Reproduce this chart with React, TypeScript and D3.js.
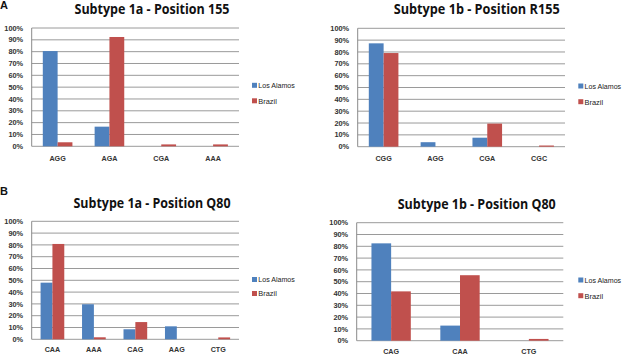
import React from "react";
import * as d3 from "d3";

const seriesNames = ["Los Alamos", "Brazil"];
const seriesColors = ["#4F81BD", "#C0504D"];
const legendWidths = [36.5, 18.5];
const yTicks = [0, 10, 20, 30, 40, 50, 60, 70, 80, 90, 100];

const catsA1 = ["AGG", "AGA", "CGA", "AAA"];
const losAlamosA1 = [80.5, 16.6, 0, 0];
const brazilA1 = [3.4, 92.4, 1.6, 1.6];

const catsA2 = ["CGG", "AGG", "CGA", "CGC"];
const losAlamosA2 = [87.3, 3.8, 7.6, 0];
const brazilA2 = [79.1, 0, 19.5, 1];

const catsB1 = ["CAA", "AAA", "CAG", "AAG", "CTG"];
const losAlamosB1 = [48, 29.7, 8.5, 11, 0];
const brazilB1 = [80.8, 1.7, 14.6, 0, 1.6];

const catsB2 = ["CAG", "CAA", "CTG"];
const losAlamosB2 = [82.5, 12.8, 0];
const brazilB2 = [41.8, 55.5, 1.5];

type PanelProps = {
  title: string;
  titleW: number;
  cats: string[];
  series: number[][];
  x0: number; x1: number; yTop: number; yBot: number;
  titleX: number; titleY: number;
  legX: number; legY: number; legGap: number;
  labY: number;
};

const small = "Liberation Sans, Arial, sans-serif";

function Panel(p: PanelProps) {
  const x = d3.scaleBand<string>().domain(p.cats).range([p.x0, p.x1]).padding(0);
  const xs = d3.scaleBand<string>().domain(seriesNames).range([0, x.bandwidth()]).paddingInner(0).paddingOuter(0.75);
  const y = d3.scaleLinear().domain([0, 100]).range([p.yBot, p.yTop]);
  return (
    <g>
      <text x={p.titleX} y={p.titleY} textAnchor="middle" fontFamily="Open Sans, Liberation Sans, sans-serif" fontWeight="bold" fontSize={13.5} textLength={p.titleW} lengthAdjust="spacingAndGlyphs" fill="#111">{p.title}</text>
      {yTicks.map((t) => (
        <g key={t}>
          <line x1={p.x0} x2={p.x1} y1={y(t)} y2={y(t)} stroke="#9a9a9a" strokeWidth={1} />
          <text x={p.x0 - 8.5} y={y(t) + 2.6} textAnchor="end" fontFamily={small} fontSize={7.4} fontWeight={600} fill="#333">{t}%</text>
        </g>
      ))}
      <line x1={p.x0} x2={p.x0} y1={p.yTop} y2={p.yBot} stroke="#8a8a8a" strokeWidth={1} />
      {p.cats.map((c, i) => (
        <g key={c}>
          {p.series.map((s, j) => (
            s[i] > 0 ? (
              <rect key={j} x={(x(c) as number) + (xs(seriesNames[j]) as number)} y={y(s[i])} width={xs.bandwidth()} height={y(0) - y(s[i])} fill={seriesColors[j]} />
            ) : null
          ))}
          <text x={(x(c) as number) + x.bandwidth() / 2} y={p.labY} textAnchor="middle" fontFamily={small} fontSize={7.2} fontWeight={600} fill="#333">{c}</text>
        </g>
      ))}
      {seriesNames.map((n, j) => (
        <g key={n}>
          <rect x={p.legX} y={p.legY + j * p.legGap - 2.5} width={5} height={5} fill={seriesColors[j]} />
          <text x={p.legX + 6.3} y={p.legY + j * p.legGap + 2.8} fontFamily={small} fontSize={7.2} textLength={legendWidths[j]} lengthAdjust="spacingAndGlyphs" fill="#222">{n}</text>
        </g>
      ))}
    </g>
  );
}

export default function App() {
  return (
    <svg width={623} height={355} style={{ position: "absolute", left: 0, top: 0, background: "#fff" }}>
      <rect x={0} y={0} width={623} height={355} fill="#fff" />
      <text x={0} y={9} fontFamily={small} fontWeight="bold" fontSize={11} fill="#111">A</text>
      <text x={0} y={195} fontFamily={small} fontWeight="bold" fontSize={11} fill="#111">B</text>
      <Panel title="Subtype 1a - Position 155" titleW={155} cats={catsA1} series={[losAlamosA1, brazilA1]}
        x0={31.7} x1={239} yTop={28} yBot={146.3} titleX={152} titleY={13.5} legX={252} legY={85.3} legGap={15.5} labY={160.5} />
      <Panel title="Subtype 1b - Position R155" titleW={166} cats={catsA2} series={[losAlamosA2, brazilA2]}
        x0={357.7} x1={565} yTop={28.3} yBot={146.7} titleX={476.7} titleY={14} legX={578.3} legY={86} legGap={15.7} labY={161} />
      <Panel title="Subtype 1a - Position Q80" titleW={157} cats={catsB1} series={[losAlamosB1, brazilB1]}
        x0={31.7} x1={239} yTop={221.3} yBot={339.3} titleX={152} titleY={207.5} legX={252} legY={279.5} legGap={14} labY={352} />
      <Panel title="Subtype 1b - Position Q80" titleW={158} cats={catsB2} series={[losAlamosB2, brazilB2]}
        x0={356.7} x1={563.3} yTop={222.7} yBot={340.7} titleX={476.7} titleY={208.5} legX={578.3} legY={280} legGap={15.7} labY={353.5} />
    </svg>
  );
}
